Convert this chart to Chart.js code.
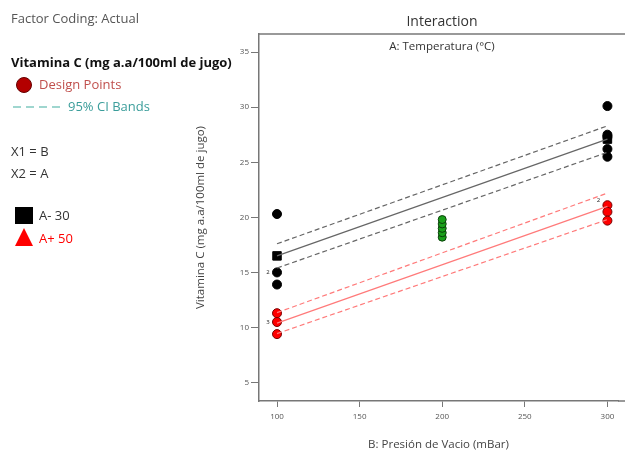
<!DOCTYPE html>
<html>
<head>
<meta charset="utf-8">
<script src="https://cdn.jsdelivr.net/npm/chart.js@4"></script>
<style>
  body { margin: 0; width: 625px; height: 454px; background: #fff; font-family: "Open Sans", sans-serif; overflow: hidden; }
  #wrap { position: absolute; left: 0; top: 0; width: 625px; height: 454px; }
  .t { position: absolute; white-space: nowrap; font-size: 13px; color: #333; line-height: 1; }
</style>
</head>
<body>
<div id="wrap"><canvas id="interChart" width="625" height="454"></canvas></div>

<!-- left side legend -->
<div class="t" style="left:11px;top:12px;color:#555;">Factor Coding: Actual</div>
<div class="t" style="left:11px;top:56px;font-weight:bold;color:#111;">Vitamina C (mg a.a/100ml de jugo)</div>
<div style="position:absolute;left:16px;top:77px;width:14px;height:14px;border-radius:50%;background:#b30000;border:1px solid #600;"></div>
<div class="t" style="left:39px;top:78px;color:#c0504d;">Design Points</div>
<div style="position:absolute;left:13px;top:106px;width:50px;height:1.5px;background:repeating-linear-gradient(to right,#9fd6cf 0 8px,transparent 8px 13px);"></div>
<div class="t" style="left:68px;top:100px;color:#3a9d9a;">95% CI Bands</div>
<div class="t" style="left:11px;top:145px;">X1 = B</div>
<div class="t" style="left:11px;top:167px;">X2 = A</div>
<div style="position:absolute;left:15px;top:207px;width:18px;height:17px;background:#000;"></div>
<div class="t" style="left:39px;top:209px;">A- 30</div>
<div style="position:absolute;left:15px;top:228px;width:0;height:0;border-left:9px solid transparent;border-right:9px solid transparent;border-bottom:18px solid #f00;"></div>
<div class="t" style="left:39px;top:232px;color:#f00;">A+ 50</div>

<script>
// axis levels and tick values
const presion = [100, 300];
const xTicks = [100, 150, 200, 250, 300];
const yTicks = [5, 10, 15, 20, 25, 30, 35];

// fitted lines, A- (30 °C) and A+ (50 °C)
const lowMean  = [16.5, 27.1];
const lowUpper = [17.6, 28.3];
const lowLower = [15.4, 25.9];
const highMean  = [10.4, 21.0];
const highUpper = [11.35, 22.2];
const highLower = [9.45, 19.8];

// design points
const blackB = [100, 100, 100, 300, 300, 300, 300, 300];
const blackV = [20.3, 15.0, 13.9, 30.1, 27.5, 27.3, 26.2, 25.5];
const redB = [100, 100, 100, 300, 300, 300];
const redV = [11.3, 10.5, 9.4, 21.1, 20.5, 19.7];
const greenB = [200, 200, 200, 200, 200];
const greenV = [18.2, 18.6, 19.0, 19.4, 19.8];

// replicate counts shown beside points
const repB = [100, 100, 300];
const repV = [15.0, 10.5, 21.1];
const repN = ['2', '3', '2'];

const pts = (xs, ys) => xs.map((x, i) => ({ x: x, y: ys[i] }));

const line = (ys, color, dashed) => ({
  type: 'line',
  data: pts(presion, ys),
  borderColor: color,
  borderWidth: 1.2,
  borderDash: dashed ? [5, 3] : [],
  pointRadius: 0,
  fill: false
});

const extras = {
  id: 'extras',
  afterDraw(chart) {
    const { ctx, chartArea: a, scales } = chart;
    ctx.save();
    // top border of the plot box, runs off the right edge
    ctx.strokeStyle = '#777';
    ctx.lineWidth = 1.5;
    ctx.beginPath();
    ctx.moveTo(a.left, a.top);
    ctx.lineTo(chart.width, a.top);
    ctx.stroke();
    ctx.beginPath();
    ctx.moveTo(a.right, a.bottom);
    ctx.lineTo(chart.width, a.bottom);
    ctx.stroke();
    // titles
    const cx = (a.left + chart.width) / 2;
    ctx.fillStyle = '#333';
    ctx.textAlign = 'center';
    ctx.textBaseline = 'middle';
    ctx.font = '14px "Open Sans"';
    ctx.fillText('Interaction', 442, 22);
    ctx.font = '11.5px "Open Sans"';
    ctx.fillText('A: Temperatura (°C)', 442, 47);
    // replicate labels
    ctx.font = '6px "Open Sans"';
    ctx.fillStyle = '#222';
    repB.forEach((b, i) => {
      const px = scales.x.getPixelForValue(b);
      const py = scales.y.getPixelForValue(repV[i]);
      ctx.fillText(repN[i], px - 9, py - (i === 2 ? 5 : 0));
    });
    ctx.restore();
  }
};

new Chart(document.getElementById('interChart'), {
  type: 'scatter',
  data: {
    datasets: [
      line(lowUpper, '#666', true),
      line(lowLower, '#666', true),
      line(lowMean, '#666', false),
      line(highUpper, '#ff7a7a', true),
      line(highLower, '#ff7a7a', true),
      line(highMean, '#ff7a7a', false),
      {
        data: pts(presion, lowMean),
        pointStyle: 'rect',
        pointRadius: 6,
        backgroundColor: '#000',
        borderColor: '#000'
      },
      {
        data: pts(blackB, blackV),
        pointRadius: 4.5,
        backgroundColor: '#000',
        borderColor: '#000'
      },
      {
        data: pts(redB, redV),
        pointRadius: 4.5,
        backgroundColor: '#f00',
        borderColor: '#700',
        borderWidth: 1
      },
      {
        data: pts(greenB, greenV),
        pointRadius: 4,
        backgroundColor: '#1aa01a',
        borderColor: '#0a400a',
        borderWidth: 1
      }
    ]
  },
  options: {
    responsive: false,
    animation: false,
    layout: { padding: { left: 190, top: 34, right: 0, bottom: 0 } },
    plugins: { legend: { display: false }, tooltip: { enabled: false } },
    scales: {
      x: {
        type: 'linear',
        min: 89.1,
        max: 306.4,
        afterBuildTicks: s => { s.ticks = xTicks.map(v => ({ value: v })); },
        afterFit: s => { s.height = 53; },
        grid: { drawOnChartArea: false, tickLength: 6, color: '#777' },
        border: { color: '#777', width: 1.5 },
        ticks: { font: { size: 8, family: 'Open Sans' }, color: '#555', padding: 5, maxRotation: 0 },
        title: { display: true, text: 'B: Presión de Vacio (mBar)', font: { size: 11.5, family: 'Open Sans' }, color: '#444', padding: { top: 4, bottom: 2 } }
      },
      y: {
        min: 3.33,
        max: 36.64,
        afterBuildTicks: s => { s.ticks = yTicks.map(v => ({ value: v })); },
        afterFit: s => { s.width = 69; },
        grid: { drawOnChartArea: false, tickLength: 8, color: '#777' },
        border: { color: '#777', width: 1.5 },
        ticks: { font: { size: 8, family: 'Open Sans' }, color: '#555', padding: 2 },
        title: { display: true, text: 'Vitamina C (mg a.a/100ml de jugo)', font: { size: 11.5, family: 'Open Sans' }, color: '#444', padding: { top: 4, bottom: 4 } }
      }
    }
  },
  plugins: [extras]
});
</script>
</body>
</html>
